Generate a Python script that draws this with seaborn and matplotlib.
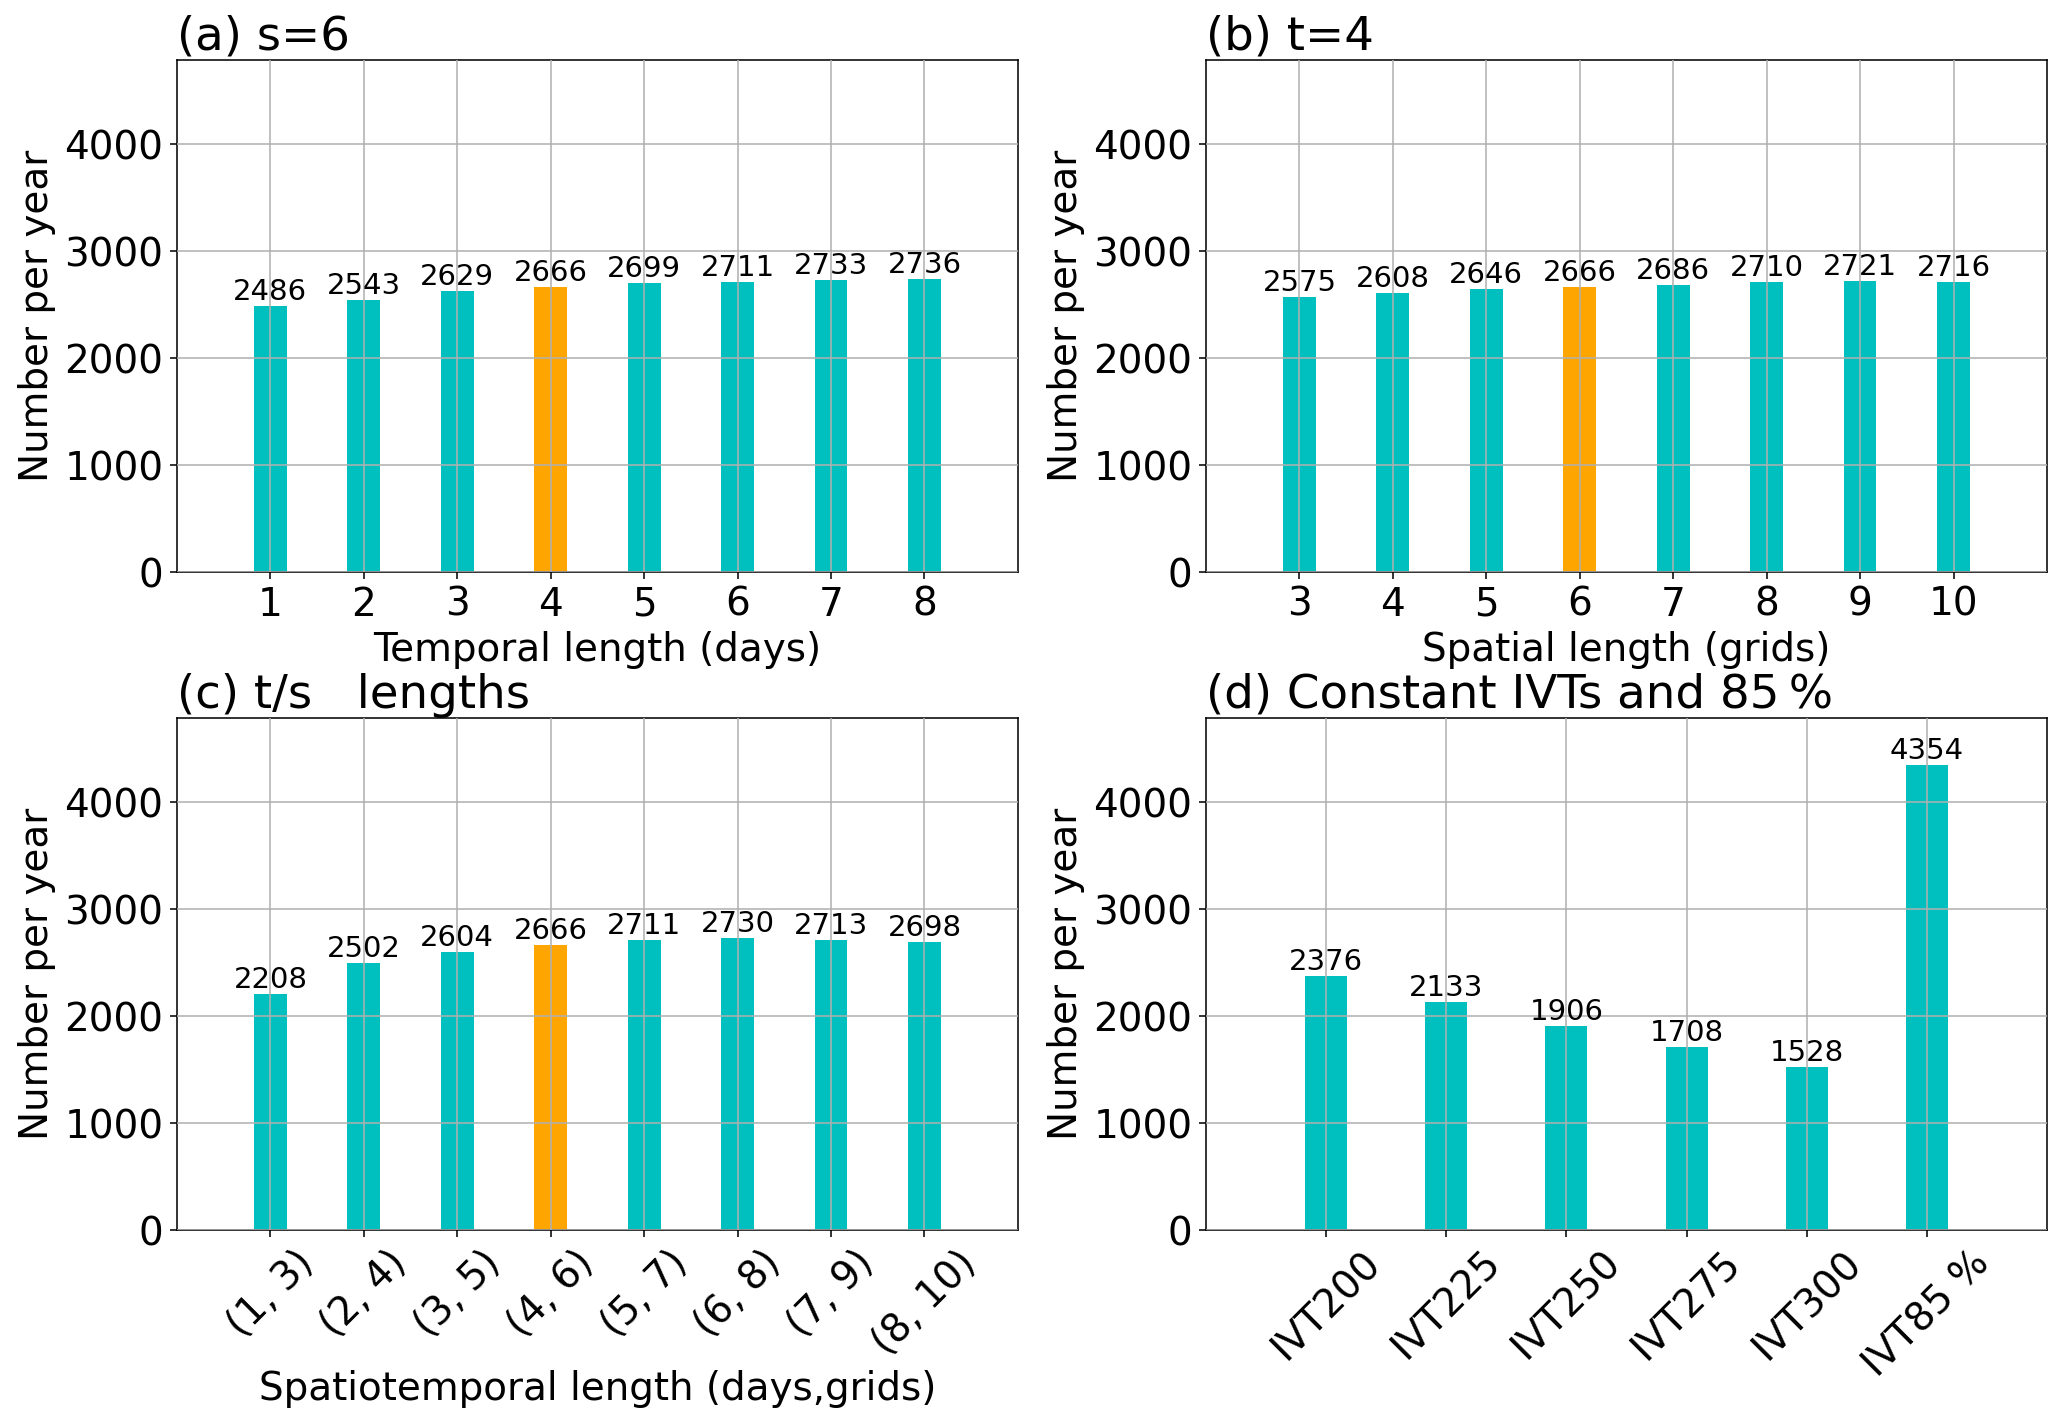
import numpy as np
import pandas as pd
import matplotlib
matplotlib.use('Agg')
import matplotlib.pyplot as plt
import seaborn as sns

# panel data
temporal_days = [1, 2, 3, 4, 5, 6, 7, 8]
temporal_counts = [2486, 2543, 2629, 2666, 2699, 2711, 2733, 2736]

spatial_grids = [3, 4, 5, 6, 7, 8, 9, 10]
spatial_counts = [2575, 2608, 2646, 2666, 2686, 2710, 2721, 2716]

st_labels = ['(1, 3)', '(2, 4)', '(3, 5)', '(4, 6)', '(5, 7)', '(6, 8)', '(7, 9)', '(8, 10)']
st_counts = [2208, 2502, 2604, 2666, 2711, 2730, 2713, 2698]

ivt_labels = ['IVT200', 'IVT225', 'IVT250', 'IVT275', 'IVT300', 'IVT85 %']
ivt_counts = [2376, 2133, 1906, 1708, 1528, 4354]

# which bar is the chosen setting (drawn orange)
highlight_a = 4
highlight_b = 6
highlight_c = '(4, 6)'

plt.rcParams['font.family'] = ['DejaVu Sans']
plt.rcParams['font.size'] = 20

fig, axes = plt.subplots(2, 2, figsize=(2067 / 140, 1424 / 140), dpi=140)
fig.subplots_adjust(left=0.0856, right=0.9903, top=0.9579, bottom=0.1362,
                    wspace=0.2236, hspace=0.285)

ytop = 1.1 * max(max(temporal_counts), max(spatial_counts), max(st_counts), max(ivt_counts))


def draw_panel(ax, keys, counts, highlight, title, xlabel=None, ticklabels=None, rotate=False):
    pos = np.arange(1, len(keys) + 1) if ticklabels is not None else np.array(keys)
    df = pd.DataFrame({'pos': pos, 'count': counts, 'key': [str(k) for k in keys]})
    pal = {str(k): ('orange' if k == highlight else 'c') for k in keys}
    sns.barplot(data=df, x='pos', y='count', hue='key', palette=pal, native_scale=True,
                width=0.35, saturation=1, errorbar=None, legend=False, ax=ax)
    for cont in ax.containers:
        ax.bar_label(cont, fontsize=15, padding=0)
    ax.set_xticks(pos)
    if ticklabels is not None:
        ax.set_xticklabels(ticklabels, rotation=45 if rotate else 0)
    else:
        ax.set_xticklabels([str(k) for k in keys])
    ax.set_xlim(pos[0] - 1, pos[-1] + 1)
    ax.set_ylim(0, ytop)
    ax.set_yticks([0, 1000, 2000, 3000, 4000])
    ax.grid(True, color='#b0b0b0', linewidth=0.8)
    ax.set_axisbelow(False)
    ax.set_ylabel('Number per year')
    ax.set_xlabel(xlabel if xlabel else '')
    ax.set_title(title, loc='left', pad=3)
    for sp in ax.spines.values():
        sp.set_color('black')
        sp.set_linewidth(0.8)
    ax.tick_params(direction='out', length=3.5, width=0.8, color='black', labelsize=20)


draw_panel(axes[0, 0], temporal_days, temporal_counts, highlight_a, '(a) s=6',
           xlabel='Temporal length (days)')
draw_panel(axes[0, 1], spatial_grids, spatial_counts, highlight_b, '(b) t=4',
           xlabel='Spatial length (grids)')
draw_panel(axes[1, 0], st_labels, st_counts, highlight_c, '(c) t/s   lengths',
           xlabel='Spatiotemporal length (days,grids)', ticklabels=st_labels, rotate=True)
draw_panel(axes[1, 1], ivt_labels, ivt_counts, None, '(d) Constant IVTs and 85\u2009%',
           ticklabels=ivt_labels, rotate=True)

plt.savefig('out.png', dpi=140, facecolor='white')
